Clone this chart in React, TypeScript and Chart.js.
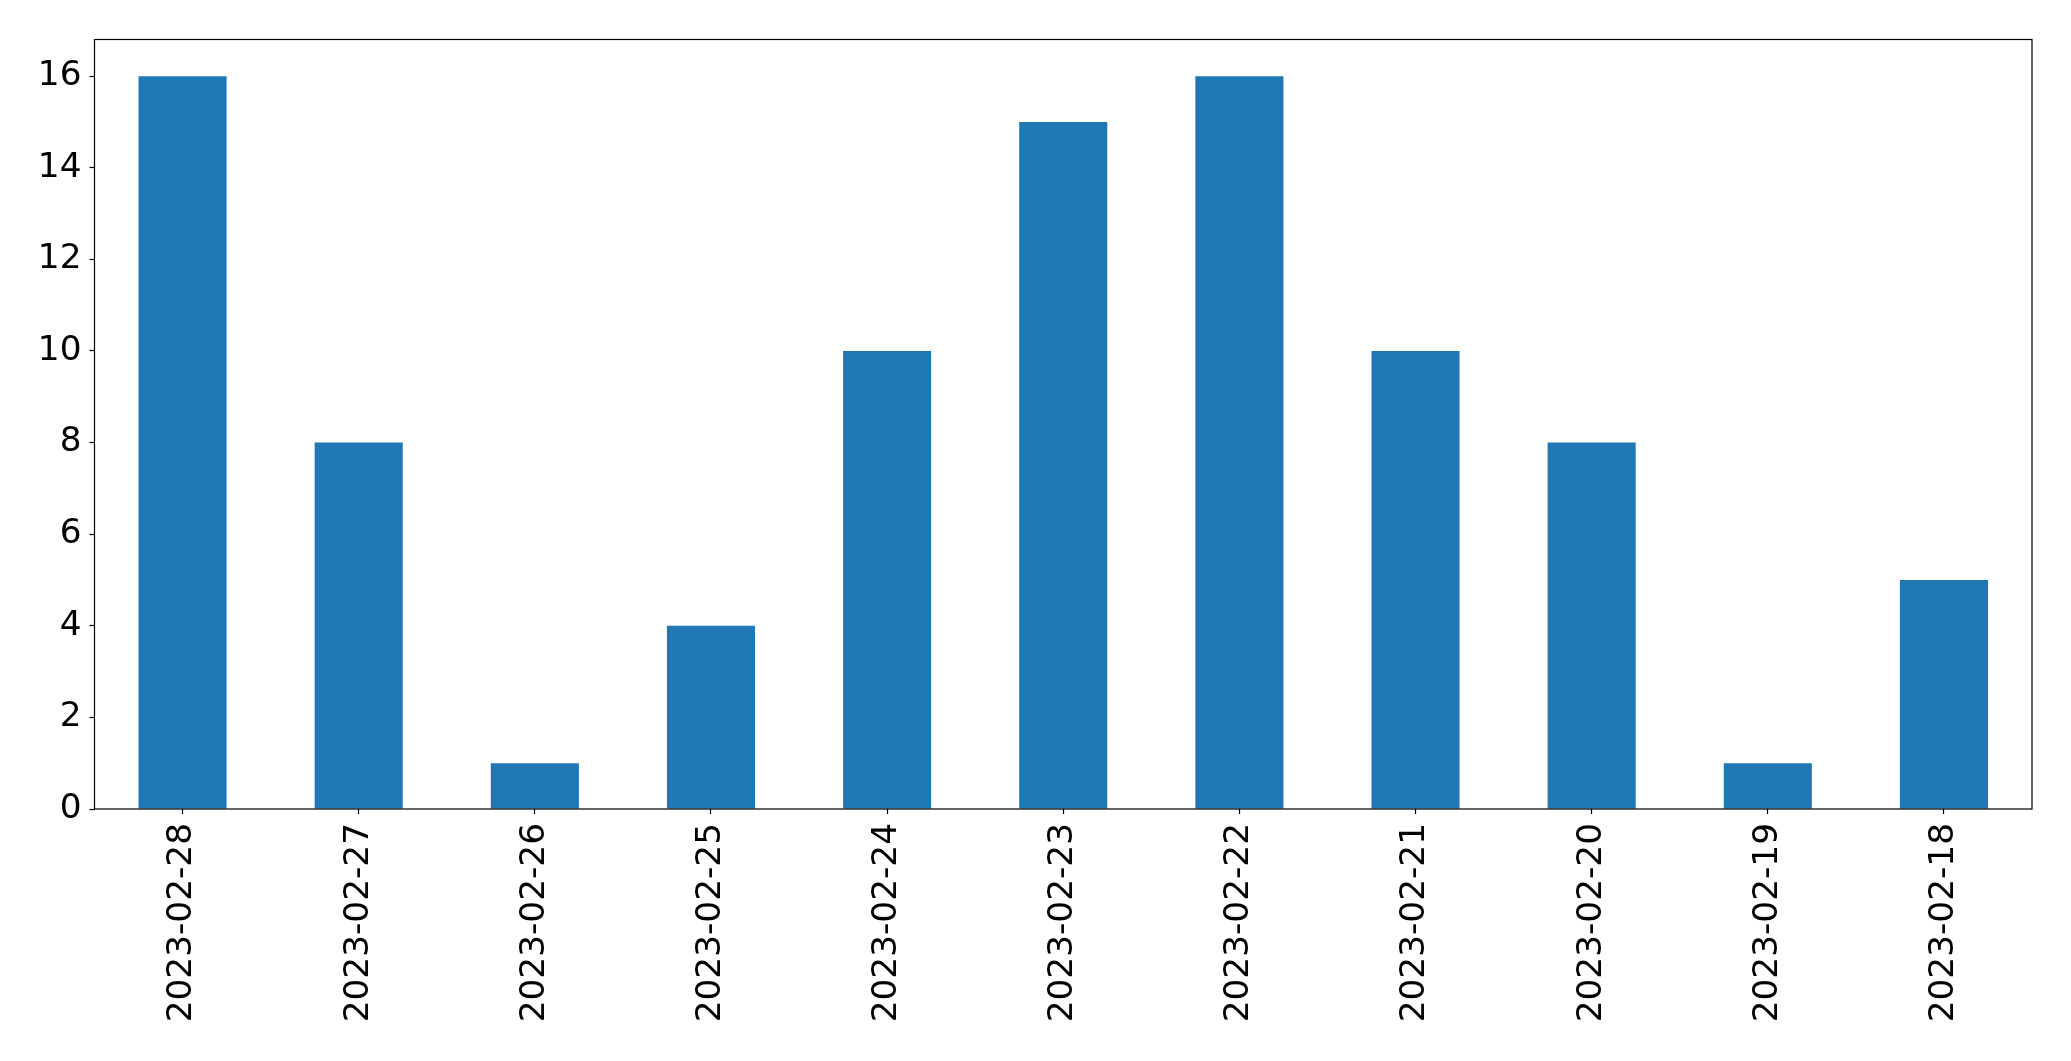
import React, { useEffect, useRef } from "react";
import { Chart, registerables } from "chart.js";

Chart.register(...registerables);

const categories = [
  "2023-02-28", "2023-02-27", "2023-02-26", "2023-02-25", "2023-02-24", "2023-02-23",
  "2023-02-22", "2023-02-21", "2023-02-20", "2023-02-19", "2023-02-18",
];
const counts = [16, 8, 1, 4, 10, 15, 16, 10, 8, 1, 5];
const yTicksStep = 2;
const yMax = 16.8;

const frame = {
  id: "frame",
  afterDraw(chart: any) {
    const { ctx, chartArea } = chart;
    ctx.save();
    ctx.strokeStyle = "#000";
    ctx.lineWidth = 1.2;
    ctx.strokeRect(chartArea.left, chartArea.top, chartArea.right - chartArea.left, chartArea.bottom - chartArea.top);
    ctx.restore();
  },
};

export default function App() {
  const ref = useRef<HTMLCanvasElement>(null);
  useEffect(() => {
    if (!ref.current) return;
    const font = { family: "'DejaVu Sans', sans-serif", size: 34.3 };
    const chart = new Chart(ref.current, {
      type: "bar",
      data: {
        labels: categories,
        datasets: [{ data: counts, backgroundColor: "#1f77b4", categoryPercentage: 1, barPercentage: 0.5 }],
      },
      options: {
        responsive: false,
        animation: false,
        devicePixelRatio: 1,
        layout: { padding: { top: 39.5, right: 39, left: 0, bottom: 0 } },
        plugins: { legend: { display: false }, tooltip: { enabled: false } },
        scales: {
          x: {
            grid: { offset: false, drawOnChartArea: false, tickLength: 5, color: "#000", tickWidth: 1.2 },
            border: { display: false },
            ticks: { color: "#000", font, minRotation: 90, maxRotation: 90, padding: 9, autoSkip: false },
            afterFit(scale: any) { scale.height = 252; },
          },
          y: {
            min: 0,
            max: yMax,
            grid: { drawOnChartArea: false, tickLength: 5, color: "#000", tickWidth: 1.2 },
            border: { display: false },
            ticks: { color: "#000", font, stepSize: yTicksStep, includeBounds: false, padding: 8 },
            afterFit(scale: any) { scale.width = 94.5; },
          },
        },
      },
      plugins: [frame],
    });
    return () => chart.destroy();
  }, []);
  return (
    <div style={{ position: "fixed", left: 0, top: 0, width: 2071, height: 1061, background: "#fff" }}>
      <canvas ref={ref} width={2071} height={1061} />
    </div>
  );
}
